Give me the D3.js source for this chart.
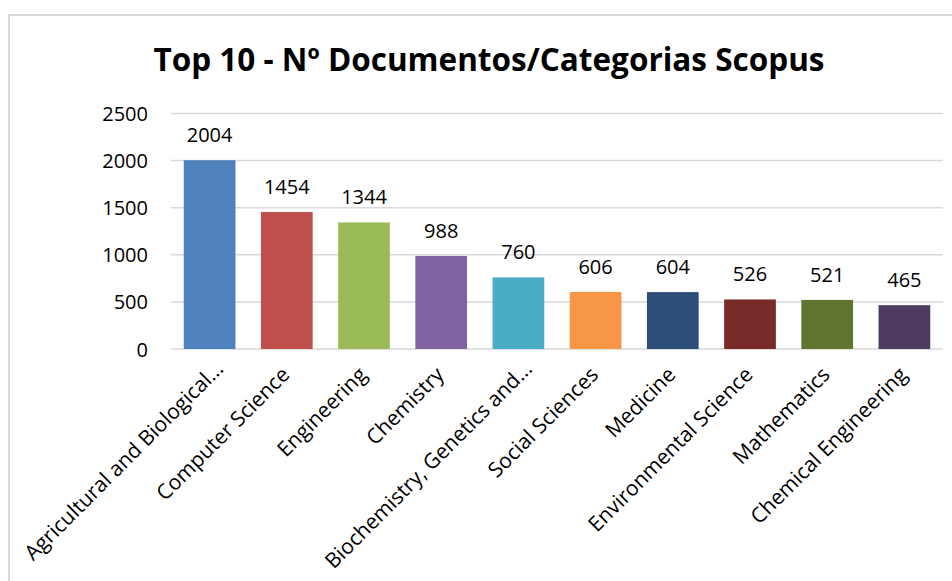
<!DOCTYPE html>
<html>
<head>
<meta charset="utf-8">
<script src="https://d3js.org/d3.v7.min.js"></script>
<style>
  body { margin: 0; background: #fff; }
  svg text { font-family: "Open Sans", "Noto Sans", sans-serif; fill: #000; }
</style>
</head>
<body>
<div id="chart"></div>
<script>
var categories = ['Agricultural and Biological...', 'Computer Science', 'Engineering', 'Chemistry',
  'Biochemistry, Genetics and...', 'Social Sciences', 'Medicine', 'Environmental Science',
  'Mathematics', 'Chemical Engineering'];
var values = [2004, 1454, 1344, 988, 760, 606, 604, 526, 521, 465];
var barColors = ['#4F81BD', '#C0504D', '#9BBB59', '#8064A2', '#4BACC6',
  '#F79646', '#2C4D75', '#772C2A', '#5F7530', '#4D3B62'];
var yTicks = [0, 500, 1000, 1500, 2000, 2500];

var width = 952, height = 581;
var plotLeft = 171, plotRight = 943, plotTop = 113.5, plotBottom = 349;

var svg = d3.select('#chart')
	.append('svg')
	.attr('width', width)
	.attr('height', height);

// chart frame
svg.append('rect')
	.attr('x', 9).attr('y', 15)
	.attr('width', 960).attr('height', 600)
	.style('fill', 'none')
	.style('stroke', '#d9d9d9')
	.style('stroke-width', 2);

svg.append('text')
	.text('Top 10 - Nº Documentos/Categorias Scopus')
	.attr('x', 489).attr('y', 71)
	.attr('text-anchor', 'middle')
	.style('font-size', '31.5px')
	.style('font-weight', 'bold');

var x = d3.scaleBand()
	.domain(categories)
	.range([plotLeft, plotRight])
	.paddingInner(0.33)
	.paddingOuter(0.165);

var y = d3.scaleLinear()
	.domain([0, 2500])
	.range([plotBottom, plotTop]);

// gridlines
svg.selectAll('line.grid')
	.data(yTicks)
	.enter()
	.append('line')
	.attr('class', 'grid')
	.attr('x1', plotLeft).attr('x2', plotRight)
	.attr('y1', function(d) { return y(d); })
	.attr('y2', function(d) { return y(d); })
	.style('stroke', '#d9d9d9')
	.style('stroke-width', 1.5);

var yAxis = svg.append('g')
	.attr('transform', 'translate(' + plotLeft + ',0)')
	.call(d3.axisLeft(y).tickValues(yTicks).tickFormat(d3.format('d')).tickSize(0).tickPadding(23));
yAxis.select('.domain').remove();
yAxis.selectAll('text')
	.style('font-family', '"Open Sans", sans-serif')
	.style('font-size', '20px')
	.attr('dy', '0.35em');

svg.selectAll('rect.bar')
	.data(values)
	.enter()
	.append('rect')
	.attr('class', 'bar')
	.attr('x', function(d, i) { return x(categories[i]); })
	.attr('y', function(d) { return y(d); })
	.attr('width', x.bandwidth())
	.attr('height', function(d) { return plotBottom - y(d); })
	.style('fill', function(d, i) { return barColors[i]; });

svg.selectAll('text.value')
	.data(values)
	.enter()
	.append('text')
	.attr('class', 'value')
	.text(function(d) { return d; })
	.attr('x', function(d, i) { return x(categories[i]) + x.bandwidth() / 2; })
	.attr('y', function(d) { return y(d) - 18; })
	.attr('text-anchor', 'middle')
	.style('font-size', '20px');

// x labels, rotated like the original (truncated ones sit a bit further right)
svg.selectAll('text.cat')
	.data(categories)
	.enter()
	.append('text')
	.attr('class', 'cat')
	.text(function(d) { return d; })
	.attr('text-anchor', 'end')
	.attr('transform', function(d) {
		var cut = d.slice(-3) === '...';
		var cx = x(d) + x.bandwidth() / 2 + (cut ? 15 : 4);
		var cy = cut ? 370 : 376;
		return 'translate(' + cx + ',' + cy + ') rotate(-45)';
	})
	.style('font-size', '21px');
</script>
</body>
</html>
